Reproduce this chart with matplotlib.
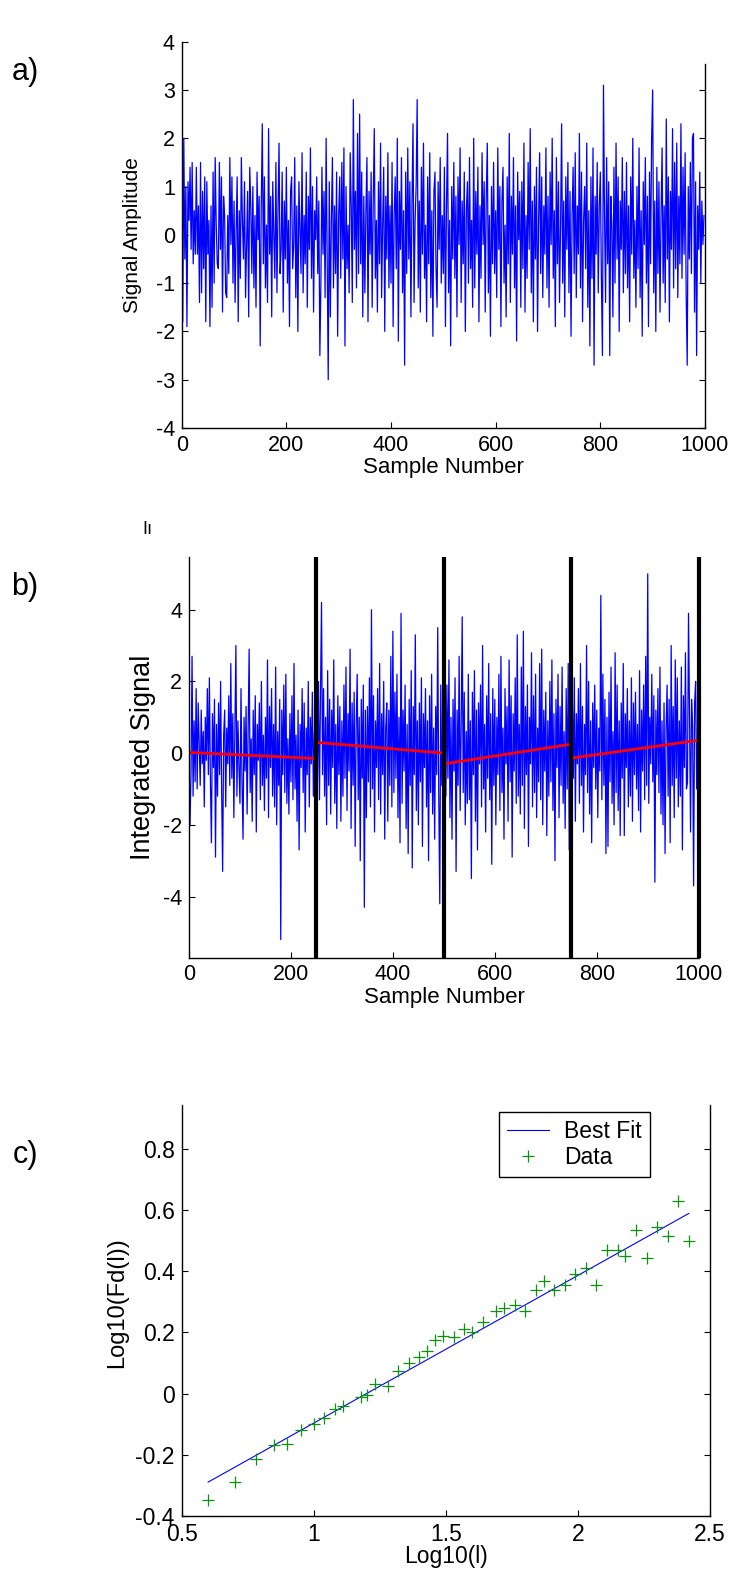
import numpy as np
import matplotlib.pyplot as plt

plt.rcParams['font.family'] = ['Liberation Sans', 'DejaVu Sans']
plt.rcParams['axes.unicode_minus'] = False

W, H = 732, 1570  # output size in pixels (dpi 100)

# ---- panel a: white noise, every 2nd sample, values in tenths ----
noise_a_tenths = [
    15, -18, 20, -5, 10, -19, 11, 3, 14, -3, 15, -6, 5, -4, 14, -4, 6, -14, 15, -12, 9, -7, 12, -18, 11,
    -4, 3, -19, 6, -15, 13, -10, 16, 2, -6, -7, 15, -3, 12, -16, 8, 4, -12, -13, 4, -8, 16, -2, 12, -10,
    7, -14, 1, 12, -18, 5, -9, 16, 3, -5, 11, -13, -2, 9, -17, 14, 6, -8, 10, -11, 4, -15, 13, -1, 8,
    -23, 6, 23, -6, 12, -11, 2, -14, 22, -4, 8, -17, 11, 0, -9, 15, -12, 5, 19, -8, -3, 13, -16, 7, -5,
    14, -10, 3, -19, 9, 12, -7, -2, 16, -13, 6, -20, 11, 1, -8, 17, -12, 4, -6, 13, -15, 8, -3, 18, -9,
    10, -16, 5, -1, 12, -8, 7, -25, -10, 14, -4, 9, -13, 20, -6, -30, 11, -17, 3, 16, -11, 6, -8, 13, -21,
    4, 12, -9, 15, -5, 18, -23, 10, -7, 2, -12, 17, 6, -14, 28, -3, 9, -11, 21, -8, 25, -6, 13, -17, 8,
    -12, 5, 16, -18, 9, -4, 13, -15, 7, 22, -9, 3, -16, 11, -6, 19, -13, 2, 14, -20, 8, -5, 17, -11, 6,
    -10, 15, -19, 4, 12, -7, 20, -22, 9, -3, 16, -12, 5, -27, 13, -8, 18, -5, 11, -17, 6, 23, -14, 3, 10,
    28, -11, 7, -16, 14, -4, 19, -9, 2, -18, 12, -6, 17, -13, 5, -21, 9, 13, -7, -15, 11, -3, 16, -10, 4,
    -8, 14, -19, 6, 21, -12, 3, -23, 10, -5, 15, -9, 8, -17, 12, -2, 18, -14, 7, -6, 13, -20, 5, 11, -10,
    16, -7, 3, -15, 20, -11, 9, -4, 14, -18, 6, -9, 17, -2, 11, -16, 8, 19, -12, 4, -21, 10, -6, 15, -8,
    5, -13, 18, -3, 10, -19, 7, 14, -10, 2, -17, 12, -6, 21, -14, 8, -4, 16, -11, 6, -22, 13, -1, 9, -15,
    11, -7, 19, -16, 4, -9, 15, -3, 22, -12, 7, -18, 10, -5, 14, -20, 3, 17, -8, 12, -13, 6, -4, 18, -11,
    8, -15, 13, -2, 20, -9, 5, -19, 16, -6, 11, -14, 2, 23, -10, 7, -17, 12, -3, 15, -12, 9, -21, 4, 14,
    -8, 17, -13, 6, -4, 21, -11, 13, -18, 3, 10, -7, 19, -15, 5, -23, 12, -9, 18, -27, 8, -4, 15, -12, 6,
    13, -9, -25, 31, 4, -14, 16, -6, 11, -25, 8, 2, -17, 14, -10, 19, -5, 12, -20, 7, -3, 16, -12, 9, -8,
    15, -11, 6, -18, 12, -4, 20, -9, 3, -15, 10, -7, 18, -13, 5, -21, 11, -2, 16, -10, 8, -19, 13, -6, 20,
    30, -12, 7, -20, 14, -8, 11, -16, 4, 18, -10, 6, -14, 24, -5, 12, -18, 9, -3, 22, -11, 15, -7, 19, -13,
    8, -6, 23, -9, 14, -4, 17, -12, -27, 10, -5, 15, -8, 20, 21, -16, 11, -25, 6, -3, 13, -10, 7, -2, 4,
]

# ---- panel b: integrated signal, every 2nd sample, values in tenths ----
integ_b_tenths = [
    0, -20, -5, 27, -12, 9, -8, 18, -10, 14, 3, -9, 12, -3, 6, -15, 10, -2, 18, -6, 21, -8, -25, 11, -4,
    15, -29, 8, -12, 14, -6, 20, -10, -33, 5, 12, -15, 7, -3, 16, -9, 25, -7, 11, -18, 6, 30, -12, 9, -4,
    -14, 18, -8, -24, 10, -5, 13, -17, 7, 29, -11, 4, -19, 12, -6, 16, -22, 8, -2, 14, -13, 20, -9, 5, -16,
    10, -7, 26, -18, 13, -4, 18, -12, 8, -15, 24, -20, 6, -9, 15, -52, 12, -6, 19, -11, 22, -14, 4, -17, 11,
    -8, 16, -13, 25, -10, 5, -19, 12, -27, 8, -4, 18, -11, 14, -22, 7, -6, 20, -15, 10, -3, 17, -12, 6, -24,
    14, -8, 20, -13, 17, 42, -6, 18, -12, 10, -20, 23, -9, 15, -17, 12, -4, 26, -14, 8, -21, 16, -6, 13, -19,
    9, -12, 19, -7, 24, -16, 11, -5, 29, -21, 14, -9, 17, -26, 8, 22, -13, 10, -30, 15, -7, 19, -43, 12, -18,
    13, -8, 21, -15, 40, -10, 16, -22, 9, -4, 18, -13, 25, -17, 11, -6, 20, -24, 7, 14, -19, 12, -9, 27, -15,
    34, -11, 17, -7, 22, -18, 10, -25, 39, -14, 12, -5, 19, -21, 8, -28, 15, -9, 23, -32, 13, -6, 33, -16, 9,
    -20, 14, -8, 21, -26, 11, -4, 18, -15, 9, -30, 16, -11, 22, -17, 7, -24, 13, -6, 35, -12, -42, 19, -9, 4,
    -28, 31, -12, 19, -7, 26, -18, 10, -24, 15, -5, 21, -33, 12, -9, 27, -16, 8, 38, -11, 17, -20, 6, -14, 22,
    -13, 9, -35, 17, -6, 23, -19, 12, -27, 14, -3, 19, -15, 30, -10, 8, -22, 16, -7, 25, -13, 11, -31, 18, -9,
    15, -20, 10, -6, 22, -16, 27, -11, 7, -24, 18, -3, 13, -19, 26, -8, 16, -29, 11, -5, 21, -14, 33, -12, 8,
    -17, 24, -9, 34, -21, 13, -6, 19, -26, 10, -3, 28, -15, 16, -11, 22, -18, 7, -8, 25, -13, 29, -20, 12, -5,
    17, -23, 9, -12, 20, -8, 26, -16, 11, -30, 15, -4, 22, -18, 13, -9, 24, -14, 6, -21, 18, -10, 25, -27, 8,
    -12, 16, -7, 21, -19, 11, -3, 18, -14, 25, -9, 13, -22, 8, -6, 30, -11, 20, -17, 9, -25, 14, -4, 19, -10,
    12, -18, 7, -5, 44, -13, 22, -9, 15, -28, 10, -26, 17, -8, 24, -14, 6, -20, 28, -11, 19, -16, 9, -23, 14,
    -7, 25, -23, 11, -4, 18, -15, 9, -12, 21, -19, 14, -6, 17, -10, 8, -16, 23, -22, 12, -5, 19, -13, 27, -9,
    50, -14, 10, -3, 22, -8, 16, -36, 12, -6, 18, -11, 24, -17, 9, -20, 14, -28, 7, 19, -12, 15, -25, 30, -9,
    13, -18, 26, -7, 21, -15, 9, -12, 24, -27, 16, -4, 28, -10, -8, 39, 11, -22, 15, 8, -37, 14, 20, -10, 5,
]
box_edges = [250, 500, 750, 1000]
trend_x0 = [0, 250, 500, 750]
trend_x1 = [250, 500, 750, 1000]
trend_y0 = [0.02, 0.30, -0.30, -0.14]
trend_y1 = [-0.15, 0.00, 0.25, 0.36]

# ---- panel c: fluctuation vs box size ----
log_l = [0.60, 0.70, 0.78, 0.85, 0.90, 0.95, 1.00, 1.04, 1.08, 1.11, 1.18, 1.20, 1.23, 1.28, 1.32,
         1.36, 1.40, 1.43, 1.46, 1.49, 1.53, 1.57, 1.60, 1.64, 1.69, 1.72, 1.76, 1.80, 1.84, 1.87,
         1.91, 1.95, 1.99, 2.03, 2.07, 2.11, 2.15, 2.18, 2.22, 2.26, 2.30, 2.34, 2.38, 2.42]
log_fd = [-0.35, -0.29, -0.215, -0.17, -0.165, -0.12, -0.10, -0.08, -0.05, -0.04, -0.01, -0.005,
          0.03, 0.025, 0.075, 0.10, 0.12, 0.14, 0.175, 0.19, 0.185, 0.21, 0.20, 0.235, 0.27, 0.28,
          0.29, 0.27, 0.34, 0.37, 0.34, 0.355, 0.39, 0.41, 0.355, 0.47, 0.47, 0.45, 0.535, 0.445,
          0.545, 0.515, 0.63, 0.50]
fit_x = [0.60, 2.42]
fit_y = [-0.29, 0.59]

BLUE = '#0000ff'
GREEN = '#109010'


def px_axes(fig, left, top, right, bottom):
    return fig.add_axes([left / W, 1 - bottom / H, (right - left) / W, (bottom - top) / H])


def px_text(fig, x, y, s, **kw):
    fig.text(x / W, 1 - y / H, s, ha='center', va='center', **kw)


def style_axes(ax, size):
    ax.tick_params(direction='in', length=4, width=0.8, labelsize=size, pad=5)
    for sp in ax.spines.values():
        sp.set_linewidth(1.0)
    ax.spines['top'].set_visible(False)


fig = plt.figure(figsize=(W / 100, H / 100), dpi=100)

# a) white noise
ax = px_axes(fig, 181.7, 41.7, 705, 428)
noise_a = np.array(noise_a_tenths) / 10
ax.plot(np.arange(len(noise_a)) * 2, noise_a, color=BLUE, lw=0.9)
ax.set_xlim(0, 1000)
ax.set_ylim(-4, 4)
ax.set_xticks(range(0, 1001, 200))
ax.set_yticks(range(-4, 5))
style_axes(ax, 15.5)
ax.tick_params(axis='y', right=True)
ax.spines['right'].set_bounds(-4, 3.54)
ax.yaxis.get_major_ticks()[-1].tick2line.set_visible(False)
px_text(fig, 133, 235, 'Signal Amplitude', rotation=90, fontsize=15)
px_text(fig, 443, 467, 'Sample Number', fontsize=16)
px_text(fig, 25, 72, 'a)', fontsize=22)

# b) integrated signal with box trends
ax = px_axes(fig, 189, 557, 698.7, 957.5)
integ_b = np.array(integ_b_tenths) / 10
ax.plot(np.arange(len(integ_b)) * 2, integ_b, color=BLUE, lw=0.9)
for x0, x1, y0, y1 in zip(trend_x0, trend_x1, trend_y0, trend_y1):
    ax.plot([x0, x1], [y0, y1], color='red', lw=2.0)
for xb in box_edges:
    ax.axvline(xb, color='black', lw=3.0, clip_on=False, solid_capstyle='butt')
ax.set_xlim(0, 1000)
ax.set_ylim(-5.70, 5.47)
ax.set_xticks(range(0, 1001, 200))
ax.set_yticks(range(-4, 5, 2))
style_axes(ax, 15.5)
ax.spines['right'].set_visible(False)
px_text(fig, 143, 757, 'Integrated Signal', rotation=90, fontsize=19.5)
px_text(fig, 444, 998, 'Sample Number', fontsize=16)
px_text(fig, 25, 587, 'b)', fontsize=22)
px_text(fig, 147, 529, 'I\u0131', fontsize=13)

# c) log-log fluctuation plot
ax = px_axes(fig, 181.7, 1105, 710, 1515.7)
ax.plot(fit_x, fit_y, color=BLUE, lw=0.8, label='Best Fit')
ax.plot(log_l, log_fd, '+', color=GREEN, ms=9, mew=0.9, label='Data')
ax.set_xlim(0.5, 2.5)
ax.set_ylim(-0.4, 0.945)
ax.set_xticks([0.5, 1, 1.5, 2, 2.5])
ax.set_xticklabels(['0.5', '1', '1.5', '2', '2.5'])
ax.set_yticks([-0.4, -0.2, 0, 0.2, 0.4, 0.6, 0.8])
ax.set_yticklabels(['-0.4', '-0.2', '0', '0.2', '0.4', '0.6', '0.8'])
style_axes(ax, 16.5)
ax.tick_params(axis='y', right=True)
leg = ax.legend(loc='upper left', bbox_to_anchor=(499 / W, 1 - 1112 / H),
                bbox_transform=fig.transFigure, fontsize=16.5, frameon=True,
                fancybox=False, edgecolor='black', framealpha=1, borderaxespad=0,
                borderpad=0.35, labelspacing=0.15, handlelength=1.85,
                handletextpad=0.65, numpoints=1)
leg.get_frame().set_linewidth(1.0)
px_text(fig, 117, 1303, 'Log10(Fd(l))', rotation=90, fontsize=17)
px_text(fig, 446, 1557, 'Log10(l)', fontsize=16.5)
px_text(fig, 25, 1155, 'c)', fontsize=22)

fig.savefig('out.png', dpi=100)
